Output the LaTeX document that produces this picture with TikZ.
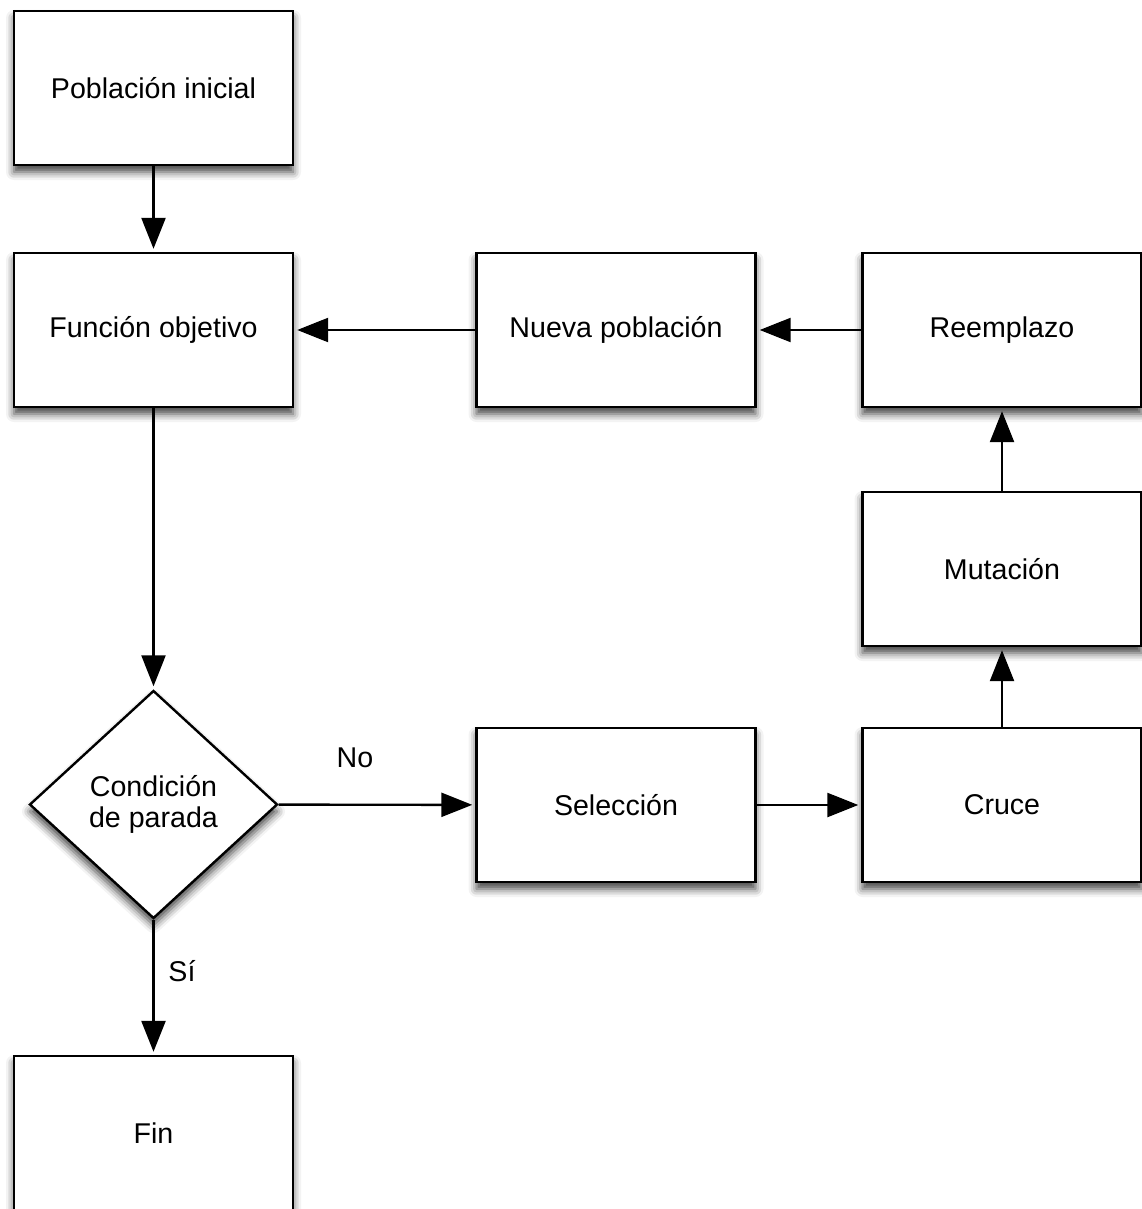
\documentclass[tikz,border=0pt]{standalone}
\usepackage{fontspec}
\setmainfont{Liberation Sans}
\usetikzlibrary{shapes.geometric,arrows.meta,shadows.blur}
\begin{document}
\begin{tikzpicture}[x=1pt,y=-1pt,
  every node/.style={font=\fontsize{28.6}{33}\selectfont},
  shad/.style={blur shadow={shadow xshift=0pt,shadow yshift=-7pt,shadow blur radius=8pt,shadow opacity=75}},
  box/.style={draw,line width=2.4pt,fill=white,rectangle,minimum width=279pt,minimum height=154pt,inner sep=0pt,shad},
  dia/.style={draw,line width=2.4pt,fill=white,diamond,minimum width=248pt,minimum height=228pt,inner sep=0pt,align=center,shad},
  conn/.style={line width=2.4pt,-{Triangle[length=31pt,width=24pt]},shorten >=3pt},
  lbl/.style={inner sep=0pt}]
\useasboundingbox (0,0) rectangle (1142,1209);
\node[box] (pop) at (153.5,88) {Población inicial};
\node[box] (fun) at (153.5,330) {Función objetivo};
\node[box] (nue) at (616,330) {Nueva población};
\node[box] (ree) at (1002,330) {Reemplazo};
\node[box] (mut) at (1002,569) {Mutación};
\node[box] (cru) at (1002,805) {Cruce};
\node[box] (sel) at (616,805) {Selección};
\node[dia] (con) at (153.5,804.5) {Condición\\[-2pt]de parada};
\node[box] (fin) at (153.5,1133) {Fin};
\draw[conn] (pop) -- (fun);
\draw[conn] (fun) -- (con);
\draw[conn] (nue) -- (fun);
\draw[conn] (ree) -- (nue);
\draw[conn] (mut) -- (ree);
\draw[conn] (cru) -- (mut);
\draw[conn] (sel) -- (cru);
\draw[conn] (con) -- (sel);
\draw[conn] (con) -- (fin);
\node[lbl] (no) at (355,758) {No};
\node[lbl] (si) at (182,971) {Sí};
\end{tikzpicture}
\end{document}
